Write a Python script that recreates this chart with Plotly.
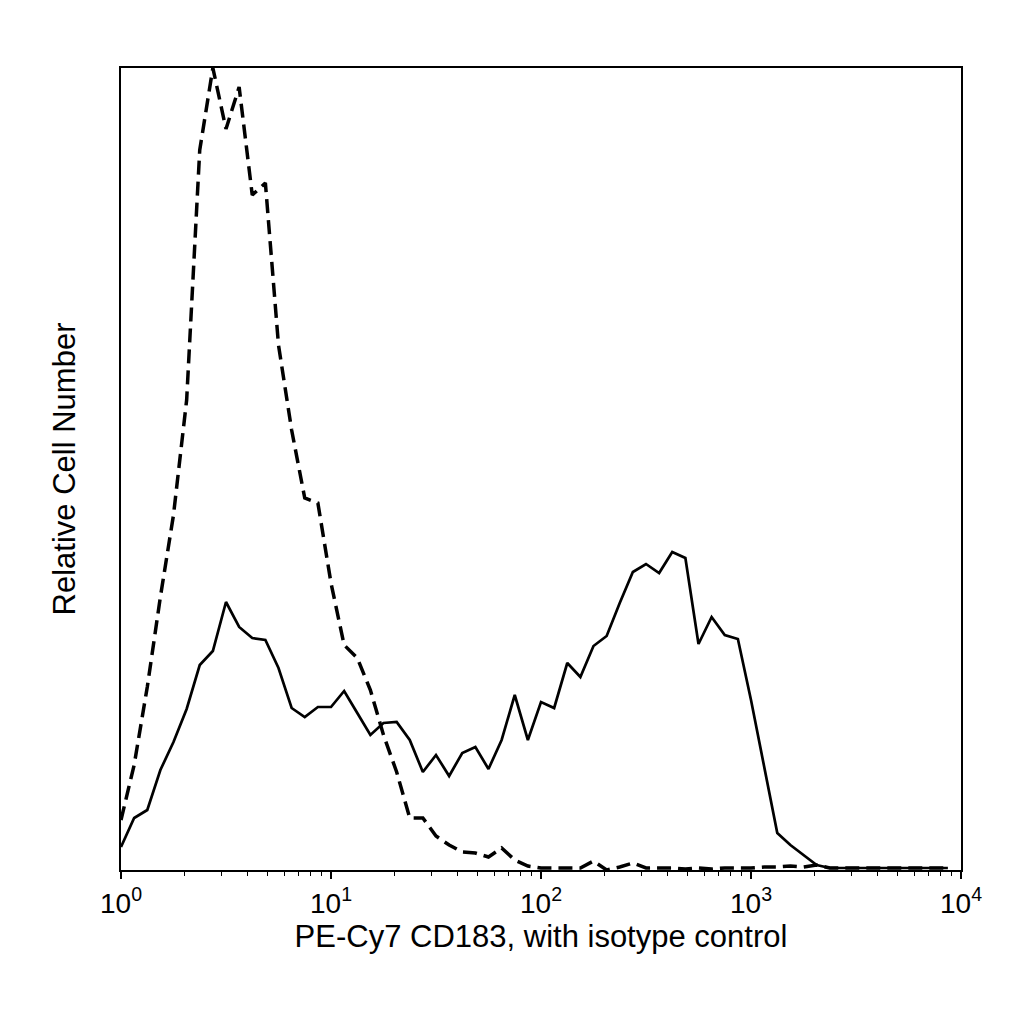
import plotly.graph_objects as go

# Histogram channel centres (log-spaced, 16 channels per decade)
channels = [
    1.000, 1.155, 1.334, 1.540, 1.778, 2.054, 2.371, 2.738, 3.162, 3.652, 4.217, 4.870, 5.623, 6.494, 7.499, 8.660,
    10.00, 11.55, 13.34, 15.40, 17.78, 20.54, 23.71, 27.38, 31.62, 36.52, 42.17, 48.70, 56.23, 64.94, 74.99, 86.60,
    100.0, 115.5, 133.4, 154.0, 177.8, 205.4, 237.1, 273.8, 316.2, 365.2, 421.7, 487.0, 562.3, 649.4, 749.9, 866.0,
    1000, 1155, 1334, 1540, 1778, 2054, 2371, 2738, 3162, 3652, 4217, 4870, 5623, 6494, 7499, 8660,
]

cd183_counts = [
    23, 52, 60, 100, 128, 161, 205, 219, 268, 243, 232, 230, 202, 162, 153, 163,
    163, 179, 157, 135, 147, 148, 130, 98, 115, 94, 117, 123, 101, 130, 175, 130,
    168, 162, 207, 193, 224, 234, 267, 298, 306, 297, 318, 312, 226, 253, 235, 231,
    170, 103, 37, 25, 15, 5, 2, 2, 2, 2, 2, 2, 2, 2, 2, 2,
]

isotype_counts = [
    50, 105, 183, 273, 355, 470, 720, 802, 741, 783, 675, 687, 525, 440, 372, 367,
    287, 225, 212, 180, 135, 98, 52, 52, 34, 25, 18, 17, 13, 22, 10, 4,
    2, 2, 2, 2, 9, 0, 3, 7, 2, 2, 2, 1, 2, 1, 2, 2,
    2, 3, 3, 4, 3, 5, 2, 2, 2, 2, 2, 2, 2, 2, 2, 2,
]

major_ticks = [1, 10, 100, 1000, 10000]
major_labels = ["10<sup>0</sup>", "10<sup>1</sup>", "10<sup>2</sup>", "10<sup>3</sup>", "10<sup>4</sup>"]
minor_ticks = [m * d for d in [1, 10, 100, 1000] for m in range(2, 10)]

x_title = "PE-Cy7 CD183, with isotype control"
y_title = "Relative Cell Number"

fig = go.Figure()
fig.add_trace(go.Scatter(
    x=channels, y=isotype_counts, mode="lines",
    line=dict(color="black", width=3.5, dash="14px,7px"),
    showlegend=False,
))
fig.add_trace(go.Scatter(
    x=channels, y=cd183_counts, mode="lines",
    line=dict(color="black", width=2.7),
    showlegend=False,
))

font_family = "Liberation Sans, Arial, sans-serif"

fig.update_layout(
    width=1008, height=1008,
    margin=dict(l=113, r=55, t=60, b=146),
    paper_bgcolor="white", plot_bgcolor="white",
    font=dict(family=font_family, color="black"),
)
fig.update_xaxes(
    type="log", range=[0, 4],
    tickmode="array", tickvals=major_ticks, ticktext=major_labels,
    ticks="outside", ticklen=7, tickwidth=1.5, tickcolor="black",
    tickfont=dict(size=28, family=font_family, color="black"),
    minor=dict(tickmode="array", tickvals=minor_ticks, ticks="outside",
               ticklen=4, tickwidth=1.2, tickcolor="black", showgrid=False),
    showline=True, linewidth=2, linecolor="black", mirror=True,
    showgrid=False, zeroline=False,
    title=dict(text=x_title, font=dict(size=31, family=font_family, color="black"), standoff=6),
)
fig.update_yaxes(
    range=[0, 802],
    showticklabels=False, ticks="",
    showline=True, linewidth=2, linecolor="black", mirror=True,
    showgrid=False, zeroline=False,
    title=dict(text=y_title, font=dict(size=31, family=font_family, color="black"), standoff=34),
)

fig.write_html("out.html")
